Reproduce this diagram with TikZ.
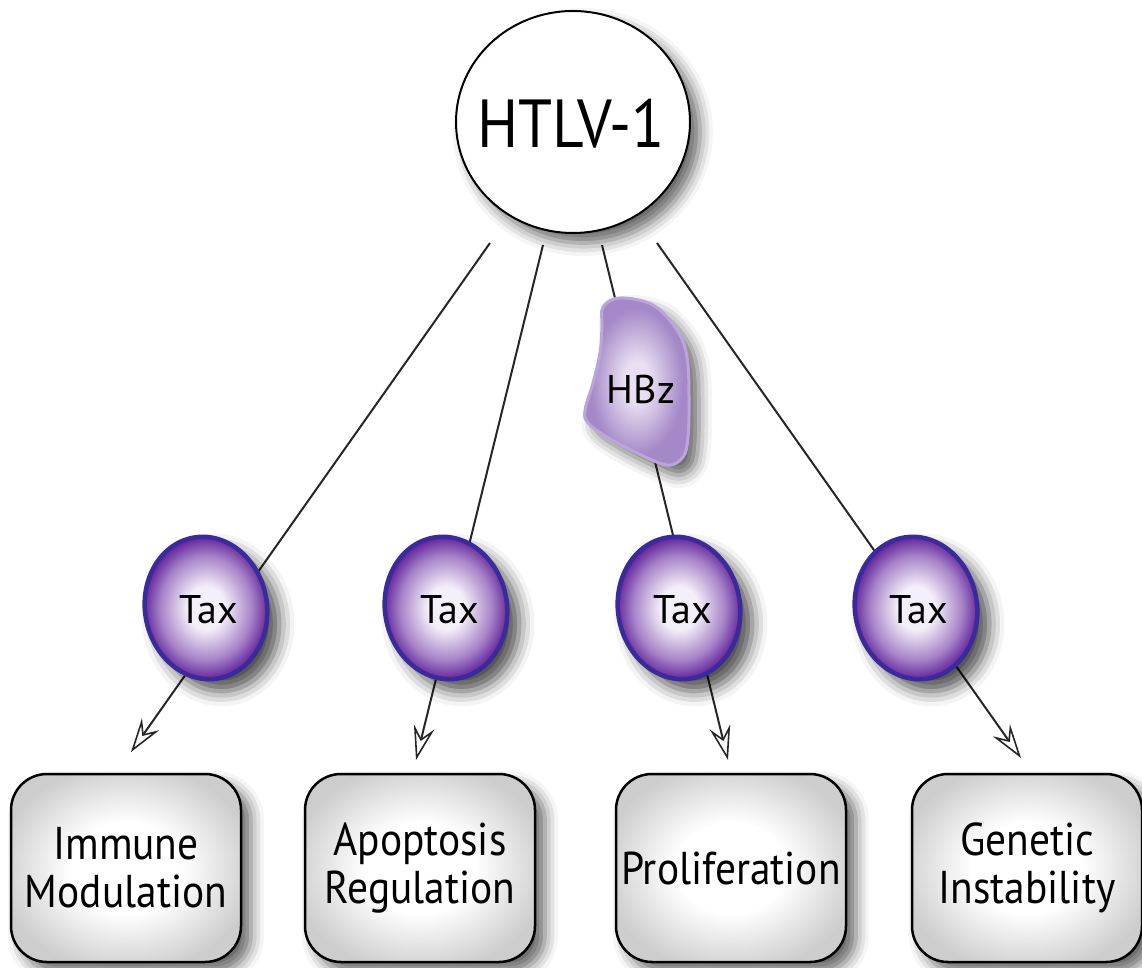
\documentclass[tikz,border=0pt]{standalone}
\usepackage{fontspec}
\setmainfont{PT Sans}
\newfontfamily\narrowfont[FakeStretch=0.9]{PT Sans}
\usetikzlibrary{shapes.geometric,shadows.blur,arrows.meta}
\definecolor{taxborder}{HTML}{3C2A9A}
\definecolor{taxouter}{HTML}{5C1C98}
\definecolor{taxmid}{HTML}{A884C8}
\definecolor{taxinner}{HTML}{F4EFF8}
\definecolor{hbzborder}{HTML}{BBA6DC}
\definecolor{hbzouter}{HTML}{A488C8}
\definecolor{hbzinner}{HTML}{EADFF2}
\definecolor{boxouter}{HTML}{CDCDCD}
\pgfdeclareradialshading{taxshade}{\pgfpoint{0bp}{0bp}}{color(0bp)=(taxinner); color(7bp)=(taxinner); color(17bp)=(taxmid); color(24bp)=(taxouter); color(50bp)=(taxouter)}
\pgfdeclareradialshading{hbzshade}{\pgfpoint{0bp}{0bp}}{color(0bp)=(hbzinner); color(6bp)=(hbzinner); color(22bp)=(hbzouter); color(50bp)=(hbzouter)}
\pgfdeclareradialshading{boxshade}{\pgfpoint{0bp}{0bp}}{color(0bp)=(white); color(12bp)=(white); color(28bp)=(boxouter); color(50bp)=(boxouter)}
\begin{document}
\begin{tikzpicture}[x=1pt,y=-1pt,
  softshadow/.style={blur shadow={shadow xshift=10pt, shadow yshift=-10pt, shadow blur radius=13pt, shadow opacity=60}},
  taxshadow/.style={blur shadow={shadow xshift=12pt, shadow yshift=-12pt, shadow blur radius=15pt, shadow opacity=70}},
  virus/.style={ellipse, draw=black, line width=2pt, fill=white, minimum width=234pt, minimum height=222pt, inner sep=0pt, softshadow},
  virustext/.style={font=\narrowfont\fontsize{68}{72}\selectfont, inner sep=0pt},
  taxshape/.style={ellipse, draw=taxborder, line width=4.5pt, shading=taxshade, minimum width=122pt, minimum height=143pt, inner sep=0pt, taxshadow},
  taxtext/.style={font=\fontsize{40}{44}\selectfont, inner sep=0pt},
  hbzshape/.style={draw=hbzborder, line width=3pt, shading=hbzshade, softshadow},
  outcome/.style={draw=black, line width=2.5pt, rounded corners=36pt, minimum width=230pt, minimum height=188pt, shading=boxshade, softshadow, align=center, font=\narrowfont\fontsize{46}{48}\selectfont},
  link/.style={line width=2pt, draw=black!85},
  tip/.style={-{Stealth[open, fill=white, length=34pt, width=21pt, inset=12pt, line width=1.6pt]}}
]
\useasboundingbox (0,0) rectangle (1142,968);

% connector end points
\coordinate (s1) at (490,243);
\coordinate (s2) at (543,245);
\coordinate (s3) at (602,245);
\coordinate (s4) at (657,243);
\coordinate (a1) at (131,752);
\coordinate (a2) at (416,760);
\coordinate (a3) at (728,760);
\coordinate (a4) at (1021,758);

% connectors
\draw[link, tip] (s1) -- (a1);
\draw[link, tip] (s2) -- (a2);
\draw[link, tip] (s3) -- (a3);
\draw[link, tip] (s4) -- (a4);

% HTLV-1
\node[virus] (htlv) at (573,122) {};
\node[virustext] (htlvl) at (571,124) {HTLV-1};

% HBz
\path[hbzshape] plot[smooth cycle, tension=0.6] coordinates {
  (603,307) (620,298) (653,305) (677,330) (687,357) (689,397) (688,437)
  (683,457) (667,465) (637,453) (607,437) (588,423) (585,410) (593,383)
  (600,353) (602,327)};
\node[taxtext] (hbz) at (641,389) {HBz};

% Tax proteins
\node[taxshape, rotate=10] (t1) at (206,608) {};
\node[taxshape, rotate=10] (t2) at (446,608) {};
\node[taxshape, rotate=10] (t3) at (679,608) {};
\node[taxshape, rotate=10] (t4) at (916,608) {};
\node[taxtext] (t1l) at (209,610) {Tax};
\node[taxtext] (t2l) at (450,610) {Tax};
\node[taxtext] (t3l) at (683,610) {Tax};
\node[taxtext] (t4l) at (919,610) {Tax};

% outcomes
\node[outcome] (b1) at (126,868) {Immune\\Modulation};
\node[outcome] (b2) at (420,868) {Apoptosis\\Regulation};
\node[outcome] (b3) at (731,868) {Proliferation};
\node[outcome] (b4) at (1027,868) {Genetic\\Instability};
\end{tikzpicture}
\end{document}
